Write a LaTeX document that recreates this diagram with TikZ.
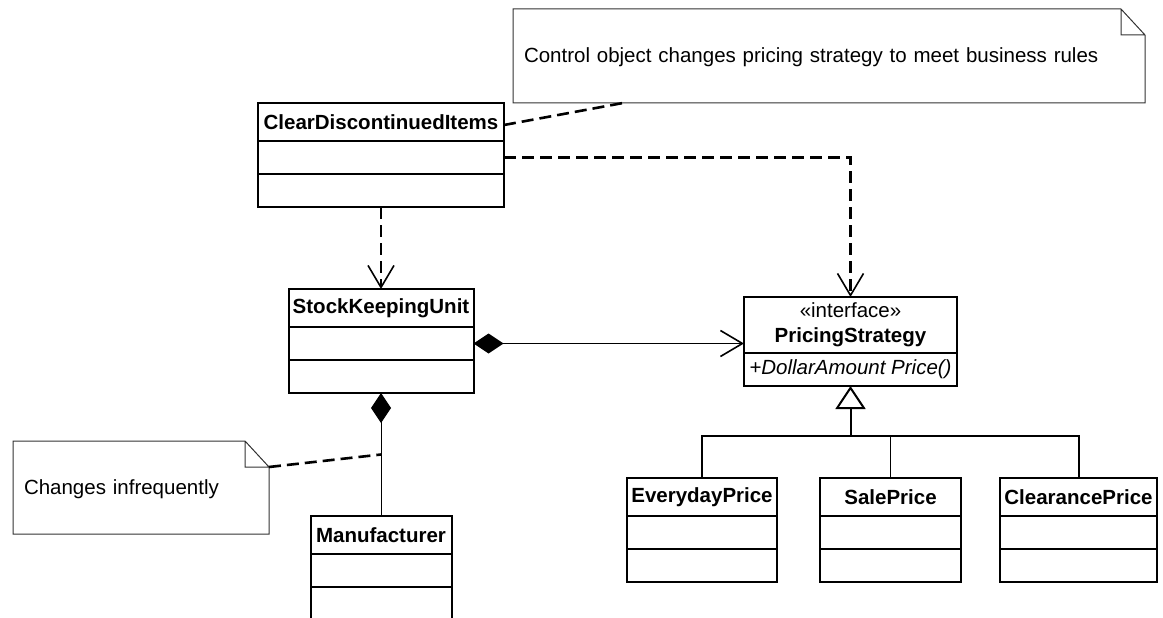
\documentclass[tikz,border=0pt]{standalone}
\usepackage{fontspec}
\setmainfont{Liberation Sans}
\usetikzlibrary{arrows.meta, positioning, calc}
\newcommand\umlfont{\fontsize{20.5}{25}\selectfont}
\tikzset{
  every picture/.style={font=\umlfont, line width=2pt},
  umlbarb/.tip={Straight Barb[length=22pt, width=26pt, line width=1.6pt]},
  umldiam/.tip={Diamond[length=30pt, width=20pt]},
  head/.style={draw, outer sep=0pt, inner sep=0pt, minimum height=38pt, font=\umlfont\bfseries},
  part/.style={draw, outer sep=0pt, inner sep=0pt, minimum height=33pt},
  note/.style={text width=#1, inner xsep=11pt, minimum height=94pt, text height=18.5pt, text depth=4.5pt,
    align=left, outer sep=0pt},
  notebord/.style={draw=black!80, line width=1pt},
  link/.style={dash pattern=on 12pt off 6pt, line width=2.6pt},
  dep/.style={link, -umlbarb},
  gen/.style={-{Triangle[length=23pt, width=30pt, fill=white]}},
}
\begin{document}
\begin{tikzpicture}[x=1pt, y=-1pt]
  \useasboundingbox (0,0) rectangle (1163,618);
  % notes
  \node[note=610pt] (ctl) at (829,56) {Control object changes pricing strategy to meet business rules};
  \node[note=234pt, minimum height=93pt] (inf) at (141,487.5) {Changes infrequently};
  \foreach \n in {ctl, inf}
    \draw[notebord] (\n.north west) -- ([xshift=-24pt]\n.north east) -- ([yshift=-26pt]\n.north east)
      -- (\n.south east) -- (\n.south west) -- cycle
      ([xshift=-24pt]\n.north east) |- ([yshift=-26pt]\n.north east);
  % classes
  \foreach \cname/\x/\y/\w/\t in {cdi/381/122/246/ClearDiscontinuedItems, sku/381/308/185/StockKeepingUnit,
      man/381/535/141/Manufacturer, ep/702/497/150/EverydayPrice, sp/890.5/497/141/SalePrice,
      cp/1078.5/497/157/ClearancePrice} {
    \node[head, minimum width=\w pt] (\cname) at (\x,\y) {\t};
    \node[part, minimum width=\w pt, below=0pt of \cname] (\cname2) {};
    \node[part, minimum width=\w pt, below=0pt of \cname2] (\cname3) {};
  }
  \node[head, minimum width=213pt, minimum height=56pt, align=center] (ps) at (850.5,325)
    {{\mdseries «interface»}\\PricingStrategy};
  \node[part, minimum width=213pt, below=0pt of ps, font=\umlfont\itshape] (ps2) {+DollarAmount Price()};
  % connectors
  \draw[dep] (cdi3) -- (sku);
  \draw[dep] (cdi2.east) -| (ps.north);
  \draw[link] ([yshift=-3pt]cdi.east) -- ($(ctl.south west)+(110,0)$);
  \draw[line width=1.5pt, umldiam-umlbarb] (sku2.east) -- (sku2.east -| ps.west);
  \draw[line width=1pt, umldiam-] (sku3.south) -- (man.north);
  \coordinate (mid) at ($(sku3.south)!0.5!(man.north)$);
  \draw[link] ([yshift=-26pt]inf.north east) -- (mid);
  \coordinate (fork) at ([yshift=-50pt]ps2.south);
  \draw[gen] (fork) -- (ps2.south);
  \draw (ep.north) |- (fork) -| (cp.north);
  \draw[line width=1pt] (sp.north) -- (sp.north |- fork);
\end{tikzpicture}
\end{document}
